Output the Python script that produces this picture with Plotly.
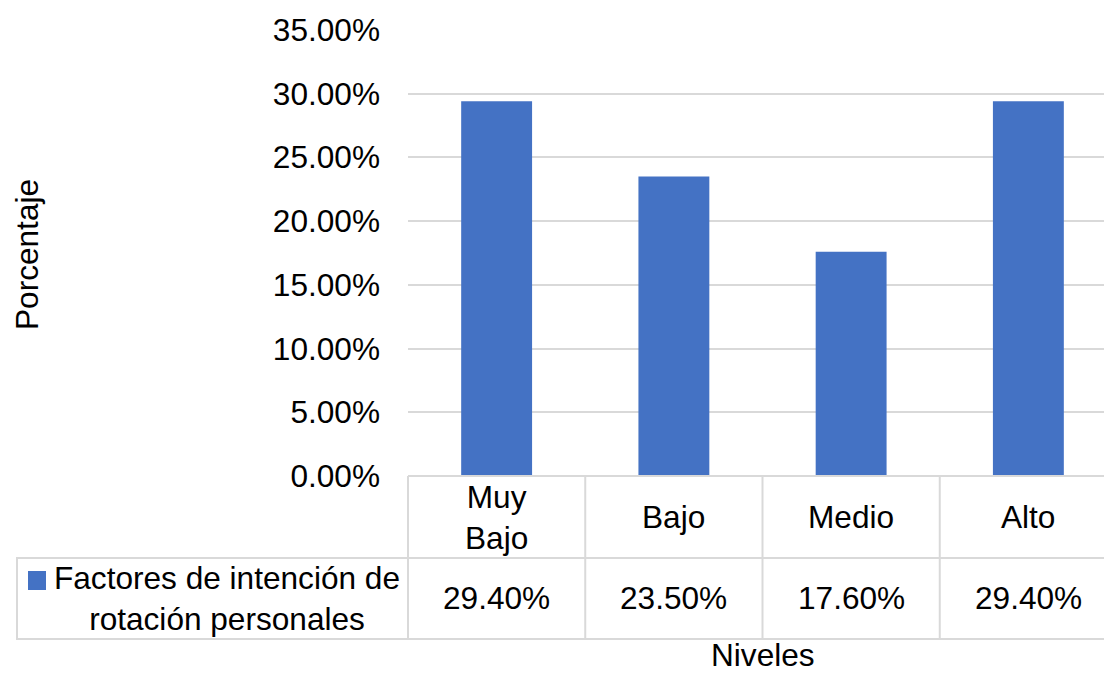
import plotly.graph_objects as go

categories = ["Muy Bajo", "Bajo", "Medio", "Alto"]
category_labels = ["Muy<br>Bajo", "Bajo", "Medio", "Alto"]
values = [0.294, 0.235, 0.176, 0.294]
value_labels = ["29.40%", "23.50%", "17.60%", "29.40%"]
series_name = "Factores de intención de<br>rotación personales"
y_ticks = [0, 0.05, 0.10, 0.15, 0.20, 0.25, 0.30, 0.35]
y_title = "Porcentaje"
x_title = "Niveles"

W, H = 1104, 675
FONT = "Liberation Sans, Arial, sans-serif"
BAR = "#4472C4"
GRID = "#d9d9d9"
FS = 31.6

def py(p):
    return (H - p) / H

def px(p):
    return p / W

plot_left = 408
cat_w = 177.25
x_end = -0.5 + (W - plot_left) / cat_w
x_idx = list(range(len(categories)))

fig = go.Figure()
fig.add_trace(go.Bar(x=x_idx, y=values, marker=dict(color=BAR, line=dict(width=0)),
                     width=0.4, name=series_name, showlegend=False, hoverinfo="skip"))

fig.update_layout(
    width=W, height=H,
    margin=dict(l=0, r=0, t=0, b=0, autoexpand=False),
    paper_bgcolor="white", plot_bgcolor="white",
    font=dict(family=FONT, size=FS, color="black"),
    showlegend=False,
    xaxis=dict(domain=[px(plot_left), 1], range=[-0.5, x_end], showticklabels=False,
               showgrid=False, zeroline=False, showline=False, ticks="", automargin=False),
    yaxis=dict(domain=[py(476), py(30)], range=[0, 0.35], tickvals=y_ticks,
               tickformat=".2%", showgrid=True, gridcolor=GRID, gridwidth=2,
               zeroline=False, showline=False, ticks="", ticklabelstandoff=27, automargin=False,
               tickfont=dict(size=FS, family=FONT, color="black")),
)

shapes = []
line = dict(color=GRID, width=2)
# table top (axis line)
shapes.append(dict(type="line", xref="paper", yref="paper", x0=px(plot_left), x1=1, y0=py(476), y1=py(476), line=line))
# row split and bottom
for yy in (558, 639):
    shapes.append(dict(type="line", xref="paper", yref="paper", x0=px(16), x1=1, y0=py(yy), y1=py(yy), line=line))
# left border of legend cell
shapes.append(dict(type="line", xref="paper", yref="paper", x0=px(17), x1=px(17), y0=py(558), y1=py(639), line=line))
# left border of category columns
shapes.append(dict(type="line", xref="paper", yref="paper", x0=px(plot_left), x1=px(plot_left), y0=py(476), y1=py(639), line=line))
# column separators
for i in x_idx[:-1]:
    shapes.append(dict(type="line", xref="x", yref="paper", x0=i + 0.5, x1=i + 0.5, y0=py(476), y1=py(639), line=line))
# legend key
shapes.append(dict(type="rect", xref="paper", yref="paper", x0=px(28), x1=px(46), y0=py(590), y1=py(571),
                   fillcolor=BAR, line=dict(width=0)))

annotations = []
for i, lab in zip(x_idx, category_labels):
    annotations.append(dict(x=i, y=py(517), xref="x", yref="paper", text=lab, showarrow=False,
                            font=dict(size=FS), align="center", xanchor="center", yanchor="middle"))
for i, lab in zip(x_idx, value_labels):
    annotations.append(dict(x=i, y=py(598), xref="x", yref="paper", text=lab, showarrow=False,
                            font=dict(size=FS), xanchor="center", yanchor="middle"))
annotations.append(dict(x=px(227), y=py(598), xref="paper", yref="paper", text=series_name, showarrow=False,
                        font=dict(size=FS), align="center", xanchor="center", yanchor="middle"))
annotations.append(dict(x=px(27), y=py(255), xref="paper", yref="paper", text=y_title, showarrow=False,
                        textangle=-90, font=dict(size=FS), xanchor="center", yanchor="middle"))
annotations.append(dict(x=px(763), y=py(655), xref="paper", yref="paper", text=x_title, showarrow=False,
                        font=dict(size=FS), xanchor="center", yanchor="middle", borderpad=0))

fig.update_layout(shapes=shapes, annotations=annotations)
fig.write_html("out.html")
